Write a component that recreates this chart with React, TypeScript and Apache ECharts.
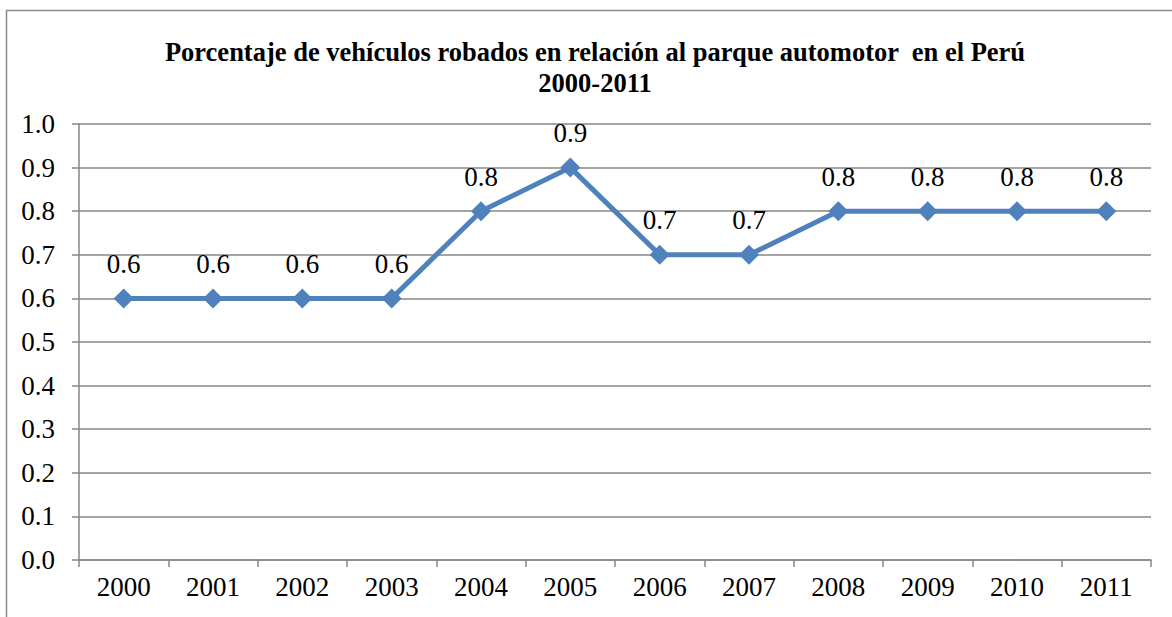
import React, { useEffect, useRef } from "react";
import * as echarts from "echarts";

const years = ["2000", "2001", "2002", "2003", "2004", "2005", "2006", "2007", "2008", "2009", "2010", "2011"];
const values = [0.6, 0.6, 0.6, 0.6, 0.8, 0.9, 0.7, 0.7, 0.8, 0.8, 0.8, 0.8];
const titleLines = ["Porcentaje de vehículos robados en relación al parque automotor  en el Perú", "2000-2011"];

export default function App() {
  const ref = useRef<HTMLDivElement>(null);
  useEffect(() => {
    if (!ref.current) return;
    const chart = echarts.init(ref.current, null, { renderer: "svg" });
    const font = "Liberation Serif";
    chart.setOption({
      animation: false,
      backgroundColor: "#ffffff",
      textStyle: { fontFamily: font },
      title: {
        text: titleLines.join("\n"),
        left: 590,
        textAlign: "center",
        top: 31,
        textStyle: { fontFamily: font, fontSize: 26.5, fontWeight: "bold", color: "#000", lineHeight: 31 },
      },
      graphic: [
        {
          type: "rect",
          shape: { x: 6.5, y: 10.5, width: 1200, height: 700 },
          style: { fill: "none", stroke: "#8c8c8c", lineWidth: 1.5 },
          silent: true,
        },
      ],
      grid: { left: 79, right: 21, top: 124, bottom: 57, containLabel: false },
      xAxis: {
        type: "category",
        data: years,
        boundaryGap: true,
        axisLine: { lineStyle: { color: "#868686", width: 1.5 } },
        axisTick: { show: true, length: 7, inside: false, alignWithLabel: false, lineStyle: { color: "#868686", width: 1.5 } },
        axisLabel: { color: "#000", fontSize: 27, fontFamily: font, margin: 13 },
        splitLine: { show: false },
      },
      yAxis: {
        type: "value",
        min: 0,
        max: 1,
        interval: 0.1,
        axisLine: { show: true, lineStyle: { color: "#868686", width: 1.5 } },
        axisTick: { show: true, length: 7, lineStyle: { color: "#868686", width: 1.5 } },
        axisLabel: {
          color: "#000",
          fontSize: 27,
          fontFamily: font,
          margin: 24,
          formatter: (v: number) => v.toFixed(1),
        },
        splitLine: { show: true, lineStyle: { color: "#868686", width: 1.5 } },
      },
      series: [
        {
          type: "line",
          data: values,
          symbol: "diamond",
          symbolSize: 20,
          lineStyle: { color: "#4F81BD", width: 5 },
          itemStyle: { color: "#4F81BD" },
          label: {
            show: true,
            position: "top",
            distance: 11,
            color: "#000",
            fontSize: 27,
            fontFamily: font,
            formatter: (p: any) => Number(p.value).toFixed(1),
          },
        },
      ],
    });
    return () => chart.dispose();
  }, []);
  return <div ref={ref} style={{ position: "fixed", left: 0, top: 0, width: 1172, height: 617 }} />;
}
